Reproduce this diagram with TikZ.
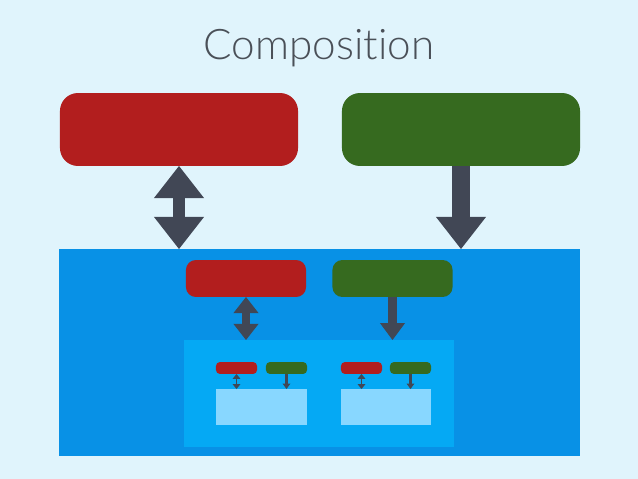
\documentclass[tikz,border=0pt]{standalone}
\usepackage{fontspec}
\setmainfont{Lato}[Ligatures=NoCommon]
\newfontfamily\titlefont{Lato}[UprightFont=* Light, Ligatures=NoCommon]
\usetikzlibrary{arrows.meta}

\definecolor{bgblue}{HTML}{E0F4FC}
\definecolor{compred}{HTML}{B21E1E}
\definecolor{compgreen}{HTML}{366A1F}
\definecolor{arrowgray}{HTML}{414755}
\definecolor{mainblue}{HTML}{0891E6}
\definecolor{innerblue}{HTML}{05A9F4}
\definecolor{lightblue}{HTML}{88D7FF}
\definecolor{titlegray}{HTML}{4A5058}

\begin{document}
\begin{tikzpicture}[x=0.025cm, y=-0.025cm,
        box/.style={rectangle, inner sep=0pt, outer sep=0pt},
        bigr/.style={box, fill=compred, rounded corners=12.8pt, minimum width=169.3pt, minimum height=51.9pt},
        bigg/.style={bigr, fill=compgreen},
        midr/.style={box, fill=compred, rounded corners=7pt, minimum width=85.4pt, minimum height=26.3pt},
        midg/.style={midr, fill=compgreen},
        smr/.style={box, fill=compred, rounded corners=2.8pt, minimum width=29.2pt, minimum height=8.5pt},
        smg/.style={smr, fill=compgreen},
        bigtwo/.style={arrowgray, line width=9.2pt, {Triangle[width=35.6pt, length=22.8pt, line width=0pt]}-{Triangle[width=35.6pt, length=22.8pt, line width=0pt]}},
        bigone/.style={arrowgray, line width=13.5pt, -{Triangle[width=35.6pt, length=22.8pt, line width=0pt]}},
        midtwo/.style={arrowgray, line width=5pt, {Triangle[width=17.8pt, length=11.4pt, line width=0pt]}-{Triangle[width=17.8pt, length=11.4pt, line width=0pt]}},
        midone/.style={arrowgray, line width=6.4pt, -{Triangle[width=17.8pt, length=12pt, line width=0pt]}},
        smtwo/.style={arrowgray, line width=1.4pt, {Triangle[width=5.5pt, length=3.4pt, line width=0pt]}-{Triangle[width=5.5pt, length=3.4pt, line width=0pt]}},
        smone/.style={arrowgray, line width=1.8pt, -{Triangle[width=5.5pt, length=3.8pt, line width=0pt]}},
        ]

      \fill[bgblue] (0,0) rectangle (638,479);
      \useasboundingbox (0,0) rectangle (638,479);

      \node[text=titlegray, font=\titlefont\fontsize{30}{36}\selectfont] (title) at (319,48) {Composition};

      \node[bigr] (parent) at (179,129.5) {};
      \node[bigg] (parentg) at (461,129.5) {};

      \node[box, fill=mainblue, minimum width=370.6pt, minimum height=147.2pt] (main) at (319.5,352.5) {};

      \node[midr] (child) at (246,278.5) {};
      \node[midg] (childg) at (392.5,278.5) {};

      \node[box, fill=innerblue, minimum width=192pt, minimum height=76.1pt] (inner) at (319,393.5) {};

      \node[smr] (ra) at (236.5,368) {};
      \node[smg] (ga) at (286.5,368) {};
      \node[smr] (rb) at (361.5,368) {};
      \node[smg] (gb) at (410.5,368) {};

      \node[box, fill=lightblue, minimum width=64.7pt, minimum height=25.6pt] (la) at (261.5,407) {};
      \node[box, fill=lightblue, minimum width=64pt, minimum height=25.6pt] (lb) at (386,407) {};

      \draw[bigtwo] (parent.south) -- (parent.south |- main.north);
      \draw[bigone] (parentg.south) -- (parentg.south |- main.north);

      \draw[midtwo] (child.south) -- (child.south |- inner.north);
      \draw[midone] (childg.south) -- (childg.south |- inner.north);

      \draw[smtwo] (ra.south) -- (ra.south |- la.north);
      \draw[smone] (ga.south) -- (ga.south |- la.north);
      \draw[smtwo] (rb.south) -- (rb.south |- lb.north);
      \draw[smone] (gb.south) -- (gb.south |- lb.north);
    \end{tikzpicture}
\end{document}
